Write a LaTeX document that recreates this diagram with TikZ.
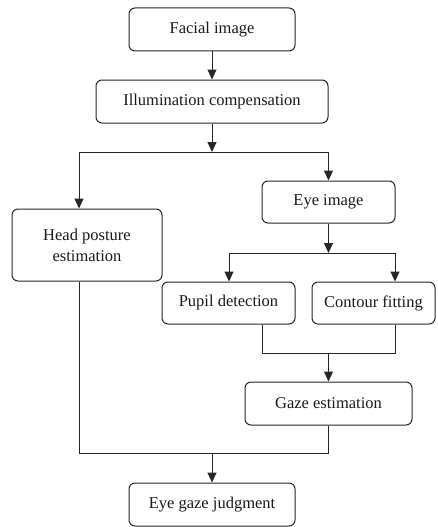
\documentclass[tikz,border=0pt]{standalone}
\usepackage{fontspec}
\setmainfont{Liberation Serif}
\usetikzlibrary{arrows.meta}
\begin{document}
\begin{tikzpicture}[x=1pt,y=-1pt,
  box/.style={draw=black!85, line width=1pt, rounded corners=6pt, align=center,
    inner sep=0pt, font=\fontsize{16.5}{21}\selectfont, text=black!90},
  conn/.style={draw=black!85, line width=1pt},
  arr/.style={conn, -{Triangle[length=10pt,width=9pt]}}]
\useasboundingbox (0,0) rectangle (437,527);
\node[box, minimum width=166pt, minimum height=43pt] (face) at (212,29.5) {Facial image};
\node[box, minimum width=232pt, minimum height=43pt] (illum) at (212,101.5) {Illumination compensation};
\node[box, minimum width=133pt, minimum height=42pt] (eye) at (328.5,202) {Eye image};
\node[box, minimum width=150pt, minimum height=72pt] (head) at (87,245) {Head posture\\estimation};
\node[box, minimum width=133pt, minimum height=42pt] (pupil) at (228.5,303) {Pupil detection};
\node[box, minimum width=123pt, minimum height=42pt] (contour) at (373.5,303) {Contour fitting};
\node[box, minimum width=167pt, minimum height=43pt] (gaze) at (328.5,403.5) {Gaze estimation};
\node[box, minimum width=166pt, minimum height=43pt] (judge) at (212,504.5) {Eye gaze judgment};
% coordinates
\coordinate (s1) at (212,152);
\coordinate (hl) at (79,152);
\coordinate (s2) at (328.5,253);
\coordinate (pl) at (229,253);
\coordinate (cr) at (395,253);
\coordinate (pb) at (262,353);
\coordinate (cb) at (395,353);
\coordinate (m3) at (328.5,353);
\coordinate (hb) at (79,453);
\coordinate (gb) at (328.5,453);
\coordinate (s4) at (212,453);
% connectors
\draw[arr] (face) -- (illum);
\draw[arr] (illum) -- (s1);
\draw[conn] (hl) -- (s1 -| eye.north);
\draw[arr] (hl) -- (hl |- head.north);
\draw[arr] (s1 -| eye.north) -- (eye.north);
\draw[arr] (eye) -- (s2);
\draw[conn] (pl) -- (cr);
\draw[arr] (pl) -- (pl |- pupil.north);
\draw[arr] (cr) -- (cr |- contour.north);
\draw[conn] (pb |- pupil.south) -- (pb) -- (cb) -- (cb |- contour.south);
\draw[arr] (m3) -- (gaze.north);
\draw[conn] (hb |- head.south) -- (hb) -- (gb) -- (gaze.south);
\draw[arr] (s4) -- (judge.north);
\end{tikzpicture}
\end{document}
